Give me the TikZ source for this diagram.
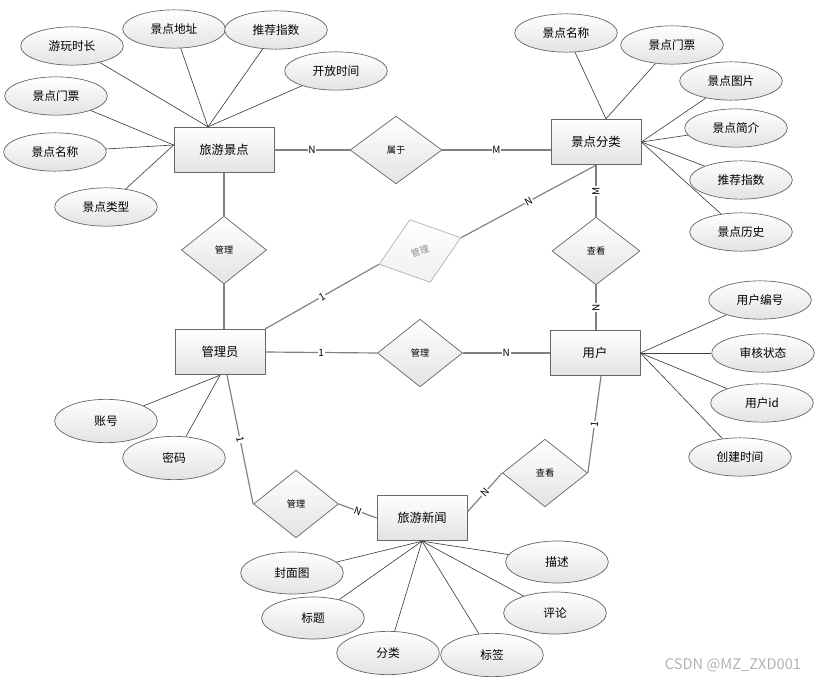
\documentclass[tikz,border=0pt]{standalone}
\usepackage{fontspec}
\setmainfont{Noto Sans CJK SC}
\usetikzlibrary{shapes.geometric,calc}
\tikzset{
  % --- generic nodes ---------------------------------------------------
  base/.style    ={draw=black!60, line width=0.6pt, align=center, inner sep=0pt,
                   text=black},
  entity/.style  ={base, rectangle, top color=white, bottom color=gray!22,
                   minimum width=2.7cm, minimum height=1.37cm,
                   font=\fontsize{10.5}{12}\selectfont},
  attr/.style    ={base, ellipse, top color=white, bottom color=gray!22,
                   minimum width=3.08cm, minimum height=1.15cm,
                   font=\fontsize{10}{12}\selectfont},
  rel/.style     ={base, diamond, top color=white, bottom color=gray!22,
                   minimum width=2.55cm, minimum height=2.03cm,
                   font=\fontsize{7.8}{9}\selectfont},
  relsel/.style  ={rel, draw=black!30, text=black!45,               % greyed-out relation
                   top color=white, bottom color=gray!12},
  % --- connectors ------------------------------------------------------
  link/.style    ={draw=black!50, line width=1pt},
  attrline/.style={draw=black!75, line width=0.55pt},
  card/.style    ={fill=white, inner sep=0.6pt, text=black,
                   font=\fontsize{8.5}{9}\selectfont},
  % --- annotation ------------------------------------------------------
  wmtext/.style  ={text=black!30, font=\fontsize{12.5}{13}\selectfont},
}

\begin{document}
\begin{tikzpicture}[x=0.03cm, y=-0.03cm]
  \useasboundingbox (0,0) rectangle (816,682);

  % ===================== entities =====================
  \node[entity, minimum width=3cm] (jd) at (224,150) {旅游景点};
  \node[entity] (fl)   at (596,142) {景点分类};
  \node[entity] (adm)  at (220,352) {管理员};
  \node[entity] (yh)   at (595,353) {用户};
  \node[entity] (news) at (422,518) {旅游新闻};

  % ===================== relationships =====================
  \node[rel, minimum width=2.76cm] (sy) at (396,150) {属于};
  \node[rel] (mg1) at (224,250) {管理};
  \node[relsel, rotate=18, minimum width=2.58cm, minimum height=1.98cm] (mg2) at (420,251) {管理};
  \node[rel, minimum width=2.64cm] (ck1) at (596,251) {查看};
  \node[rel] (mg3) at (420,353) {管理};
  \node[rel] (mg4) at (296,504) {管理};
  \node[rel] (ck2) at (545,473) {查看};

  % ===================== attributes: scenic spot =====================
  \node[attr] (jd1) at (72,46)   {游玩时长};
  \node[attr] (jd2) at (174,29)  {景点地址};
  \node[attr] (jd3) at (276,30)  {推荐指数};
  \node[attr] (jd4) at (336,71)  {开放时间};
  \node[attr] (jd5) at (56,96)   {景点门票};
  \node[attr] (jd6) at (55,152)  {景点名称};
  \node[attr] (jd7) at (106,207) {景点类型};

  % ===================== attributes: category =====================
  \node[attr] (fl1) at (566,33)  {景点名称};
  \node[attr] (fl2) at (672,45)  {景点门票};
  \node[attr] (fl3) at (731,81)  {景点图片};
  \node[attr] (fl4) at (736,128) {景点简介};
  \node[attr] (fl5) at (741,180) {推荐指数};
  \node[attr] (fl6) at (741,232) {景点历史};

  % ===================== attributes: user / admin =====================
  \node[attr] (yh1) at (760,300) {用户编号};
  \node[attr] (yh2) at (763,353) {审核状态};
  \node[attr] (yh3) at (762,403) {用户id};
  \node[attr] (yh4) at (740,457) {创建时间};
  \node[attr, minimum height=1.3cm] (adm1) at (106,421) {账号};
  \node[attr, minimum height=1.3cm] (adm2) at (174,458) {密码};

  % ===================== attributes: news =====================
  \node[attr, minimum height=1.26cm] (nw1) at (292,573) {封面图};
  \node[attr, minimum height=1.26cm] (nw2) at (313,618) {标题};
  \node[attr, minimum height=1.3cm]  (nw3) at (388,653) {分类};
  \node[attr, minimum height=1.3cm]  (nw4) at (492,655) {标签};
  \node[attr, minimum height=1.26cm] (nw5) at (557,562) {描述};
  \node[attr, minimum height=1.26cm] (nw6) at (555,613) {评论};

  % ===================== relationship edges =====================
  \coordinate (jdtop)  at ($(jd.north)+(-16,0)$);
  \coordinate (jdleft) at ($(jd.west)+(0,-5)$);
  \coordinate (fltop)  at ($(fl.north)+(10,0)$);
  \coordinate (admb)   at ($(adm.south)+(7,0)$);
  \coordinate (newsr)  at ($(news.east)+(0,-6)$);
  \coordinate (yhb)    at ($(yh.south)+(6,0)$);

  \draw[link] (jd.east) -- node[card]{N} (sy.west);
  \draw[link] (sy.east) -- node[card]{M} (sy.east -| fl.west);
  \draw[link] (jd.south) -- (mg1.north);
  \draw[link] (mg1.south) -- (mg1.south |- adm.north);
  \draw[link] (adm.north east) -- node[card, sloped]{1} (mg2.west);
  \draw[link] (mg2.east) -- node[card, sloped]{N} (fl.south);
  \draw[link] (fl.south) -- node[card, rotate=90]{M} (ck1.north);
  \draw[link] (ck1.south) -- node[card, rotate=90]{N} (ck1.south |- yh.north);
  \draw[link] (adm.east) -- node[card]{1} (mg3.west);
  \draw[link] (mg3.east) -- node[card]{N} (yh.west);
  \draw[link] (admb) -- node[card, sloped]{1} (mg4.west);
  \draw[link] (mg4.east) -- node[card, sloped]{N} (news.west);
  \draw[link] (newsr) -- node[card, sloped]{N} (ck2.west);
  \draw[link] (ck2.east) -- node[card, sloped]{1} (yhb);

  % ===================== attribute edges =====================
  \draw[attrline] (jdtop) -- (jd1);
  \draw[attrline] (jdtop) -- (jd2);
  \draw[attrline] (jdtop) -- (jd3);
  \draw[attrline] (jdtop) -- (jd4);
  \draw[attrline] (jdleft) -- (jd5);
  \draw[attrline] (jdleft) -- (jd6);
  \draw[attrline] (jdleft) -- (jd7);
  \draw[attrline] (fltop) -- (fl1);
  \draw[attrline] (fltop) -- (fl2);
  \draw[attrline] (fl.east) -- (fl3);
  \draw[attrline] (fl.east) -- (fl4);
  \draw[attrline] (fl.east) -- (fl5);
  \draw[attrline] (fl.east) -- (fl6);
  \draw[attrline] (yh.east) -- (yh1);
  \draw[attrline] (yh.east) -- (yh2);
  \draw[attrline] (yh.east) -- (yh3);
  \draw[attrline] (yh.east) -- (yh4);
  \draw[attrline] (adm.south) -- (adm1);
  \draw[attrline] (adm.south) -- (adm2);
  \draw[attrline] (news.south) -- (nw1);
  \draw[attrline] (news.south) -- (nw2);
  \draw[attrline] (news.south) -- (nw3);
  \draw[attrline] (news.south) -- (nw4);
  \draw[attrline] (news.south) -- (nw5);
  \draw[attrline] (news.south) -- (nw6);

  % ===================== watermark =====================
  \node[wmtext] (wm) at (733,665) {CSDN @MZ\_ZXD001};

\end{tikzpicture}
\end{document}
